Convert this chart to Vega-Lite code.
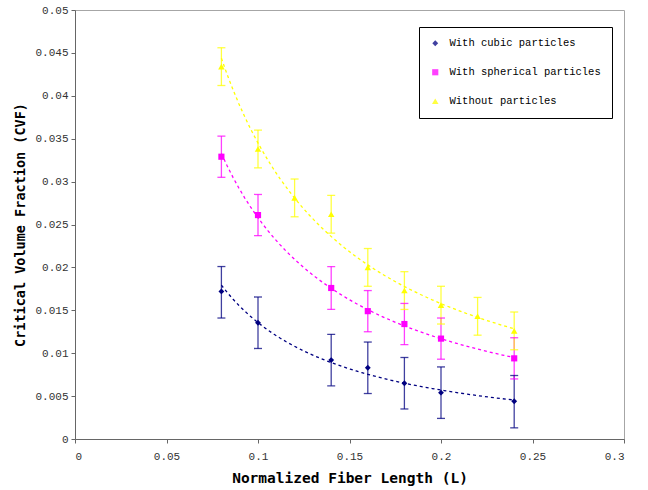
{
  "$schema": "https://vega.github.io/schema/vega-lite/v6.json",
  "width": 549,
  "height": 429,
  "autosize": {"type": "none"},
  "padding": {"left": 75, "top": 10, "right": 24, "bottom": 51},
  "background": "white",
  "config": {
    "view": {"stroke": "#a6a6a6", "strokeWidth": 1},
    "axis": {
      "grid": false,
      "domainColor": "#666666",
      "tickColor": "#666666",
      "tickSize": 4,
      "labelFont": "Liberation Mono",
      "labelFontSize": 11,
      "labelColor": "#333333",
      "titleFont": "DejaVu Sans Mono",
      "titleFontWeight": "bold",
      "titleColor": "#000000"
    },
    "legend": {
      "title": null,
      "orient": "none",
      "legendX": 344,
      "legendY": 17,
      "strokeColor": "#000000",
      "fillColor": "#ffffff",
      "padding": 11,
      "rowPadding": 18,
      "labelFont": "Liberation Mono",
      "labelFontSize": 10.5,
      "labelColor": "#000000",
      "labelLimit": 300,
      "symbolStrokeWidth": 0,
      "labelOffset": 9
    }
  },
  "data": {
    "values": [
      {"series": "With cubic particles", "L": 0.08, "cvf": 0.0172, "lo": 0.0141, "hi": 0.0201},
      {"series": "With cubic particles", "L": 0.10, "cvf": 0.01355, "lo": 0.01055, "hi": 0.01655},
      {"series": "With cubic particles", "L": 0.14, "cvf": 0.0092, "lo": 0.0062, "hi": 0.0122},
      {"series": "With cubic particles", "L": 0.16, "cvf": 0.0083, "lo": 0.0053, "hi": 0.0113},
      {"series": "With cubic particles", "L": 0.18, "cvf": 0.0065, "lo": 0.0035, "hi": 0.0095},
      {"series": "With cubic particles", "L": 0.20, "cvf": 0.0054, "lo": 0.0024, "hi": 0.0084},
      {"series": "With cubic particles", "L": 0.24, "cvf": 0.0044, "lo": 0.0013, "hi": 0.0074},
      {"series": "With spherical particles", "L": 0.08, "cvf": 0.0329, "lo": 0.0305, "hi": 0.0353},
      {"series": "With spherical particles", "L": 0.10, "cvf": 0.0261, "lo": 0.0237, "hi": 0.0285},
      {"series": "With spherical particles", "L": 0.14, "cvf": 0.0176, "lo": 0.0151, "hi": 0.0201},
      {"series": "With spherical particles", "L": 0.16, "cvf": 0.0149, "lo": 0.0125, "hi": 0.0173},
      {"series": "With spherical particles", "L": 0.18, "cvf": 0.0134, "lo": 0.0110, "hi": 0.0158},
      {"series": "With spherical particles", "L": 0.20, "cvf": 0.0117, "lo": 0.0093, "hi": 0.0141},
      {"series": "With spherical particles", "L": 0.24, "cvf": 0.0094, "lo": 0.0070, "hi": 0.0118},
      {"series": "Without particles", "L": 0.08, "cvf": 0.0434, "lo": 0.0412, "hi": 0.0456},
      {"series": "Without particles", "L": 0.10, "cvf": 0.0338, "lo": 0.0316, "hi": 0.0360},
      {"series": "Without particles", "L": 0.12, "cvf": 0.0281, "lo": 0.0259, "hi": 0.0303},
      {"series": "Without particles", "L": 0.14, "cvf": 0.0262, "lo": 0.0240, "hi": 0.0284},
      {"series": "Without particles", "L": 0.16, "cvf": 0.0200, "lo": 0.0178, "hi": 0.0222},
      {"series": "Without particles", "L": 0.18, "cvf": 0.0173, "lo": 0.0151, "hi": 0.0195},
      {"series": "Without particles", "L": 0.20, "cvf": 0.0156, "lo": 0.0134, "hi": 0.0178},
      {"series": "Without particles", "L": 0.22, "cvf": 0.0143, "lo": 0.0121, "hi": 0.0165},
      {"series": "Without particles", "L": 0.24, "cvf": 0.0126, "lo": 0.0104, "hi": 0.0148}
    ]
  },
  "encoding": {
    "x": {
      "field": "L", "type": "quantitative",
      "scale": {"domain": [0, 0.3], "nice": false},
      "axis": {
        "title": "Normalized Fiber Length (L)",
        "titleFontSize": 14.5,
        "titlePadding": 10,
        "values": [0, 0.05, 0.1, 0.15, 0.2, 0.25, 0.3],
        "format": "~g",
        "labelPadding": 7
      }
    },
    "color": {
      "field": "series", "type": "nominal",
      "scale": {
        "domain": ["With cubic particles", "With spherical particles", "Without particles"],
        "range": ["#000080", "#FF00FF", "#FFFF00"]
      }
    }
  },
  "layer": [
    {
      "transform": [{"regression": "cvf", "on": "L", "groupby": ["series"], "method": "pow"}],
      "mark": {"type": "line", "strokeDash": [3, 3], "strokeWidth": 1.3},
      "encoding": {
        "y": {
          "field": "cvf", "type": "quantitative",
          "scale": {"domain": [0, 0.05], "nice": false},
          "axis": {
            "title": "Critical Volume Fraction (CVF)",
            "titleFontSize": 13.5,
            "titlePadding": 7,
            "values": [0, 0.005, 0.01, 0.015, 0.02, 0.025, 0.03, 0.035, 0.04, 0.045, 0.05],
            "format": "~g",
            "labelPadding": 3
          }
        }
      }
    },
    {
      "mark": {"type": "rule", "strokeWidth": 1.3, "opacity": 0.75},
      "encoding": {
        "y": {"field": "lo", "type": "quantitative"},
        "y2": {"field": "hi"}
      }
    },
    {
      "mark": {"type": "tick", "orient": "horizontal", "size": 8, "thickness": 1.3, "opacity": 0.75},
      "encoding": {"y": {"field": "lo", "type": "quantitative"}}
    },
    {
      "mark": {"type": "tick", "orient": "horizontal", "size": 8, "thickness": 1.3, "opacity": 0.75},
      "encoding": {"y": {"field": "hi", "type": "quantitative"}}
    },
    {
      "mark": {"type": "point", "filled": true, "opacity": 1},
      "encoding": {
        "y": {"field": "cvf", "type": "quantitative"},
        "shape": {
          "field": "series", "type": "nominal",
          "scale": {
            "domain": ["With cubic particles", "With spherical particles", "Without particles"],
            "range": ["diamond", "square", "triangle-up"]
          }
        },
        "size": {
          "field": "series", "type": "nominal",
          "scale": {
            "domain": ["With cubic particles", "With spherical particles", "Without particles"],
            "range": [34, 42, 75]
          }
        }
      }
    }
  ]
}
